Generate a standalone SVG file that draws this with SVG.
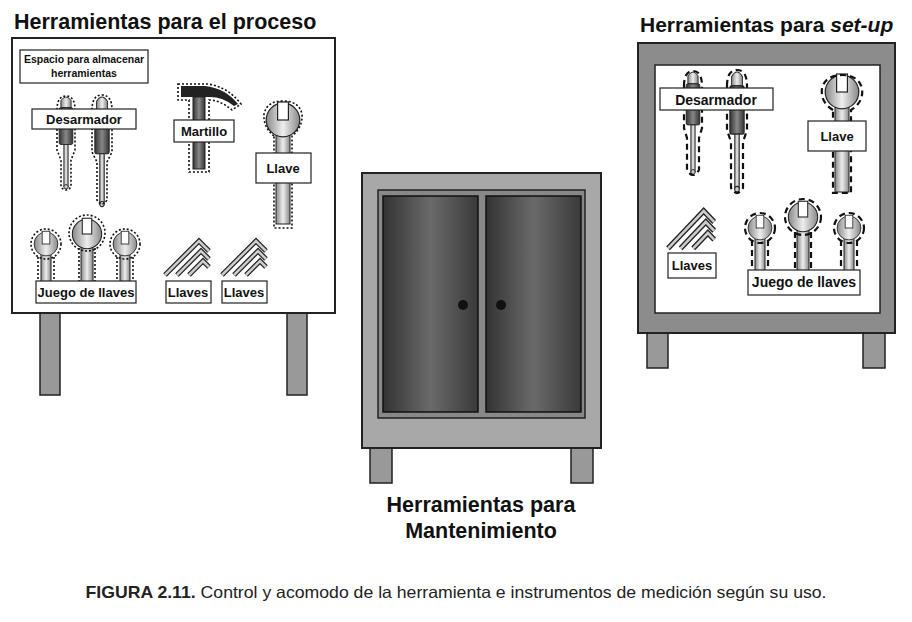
<svg xmlns="http://www.w3.org/2000/svg" width="912" height="622" viewBox="0 0 912 622">
<style>
.t{font-family:"Liberation Sans",Arial,sans-serif;font-weight:bold;fill:#111}
.lb{fill:#fff;stroke:#222;stroke-width:1.2}
.lt{font-family:"Liberation Sans",Arial,sans-serif;font-weight:bold;font-size:13px;fill:#111;text-anchor:middle}
.dot{fill:none;stroke:#111;stroke-width:1.6;stroke-dasharray:2 2}
.dash{fill:none;stroke:#111;stroke-width:2.2;stroke-dasharray:6 4}
.leg{fill:#999;stroke:#222;stroke-width:1.5}
.sh{fill:url(#mg);stroke:#222}
</style>
<defs>
<linearGradient id="mg" x1="0" x2="1"><stop offset="0" stop-color="#888"/><stop offset="0.5" stop-color="#eee"/><stop offset="1" stop-color="#888"/></linearGradient>
<linearGradient id="dg" x1="0" x2="1"><stop offset="0" stop-color="#333"/><stop offset="0.5" stop-color="#888"/><stop offset="1" stop-color="#333"/></linearGradient>
<linearGradient id="door" x1="0" x2="1"><stop offset="0" stop-color="#333"/><stop offset="0.5" stop-color="#6a6a6a"/><stop offset="1" stop-color="#3a3a3a"/></linearGradient>
<g id="wh">
<circle cx="0" cy="0" r="14" fill="url(#mg)" stroke="#222"/>
<rect x="-4.5" y="-15" width="9" height="15" fill="#fff" stroke="#222"/>
</g>
<g id="sd">
<path d="M-6,12 L-6,4 Q0,-4 6,4 L6,12 Z" fill="url(#mg)" stroke="#222"/>
<rect x="-8" y="12" width="16" height="42" rx="2" fill="url(#dg)" stroke="#222"/>
<rect x="-2.5" y="54" width="5" height="48" fill="url(#mg)" stroke="#222"/>
<circle cx="0" cy="102" r="2.5" fill="#ccc" stroke="#222"/>
</g>
<g id="hex">
<path d="M0,44 L34,10 L44,20 M12,44 L36,20 L44,28 M24,44 L38,30 L44,36" fill="none" stroke="#222" stroke-width="5"/>
<path d="M0,44 L34,10 L44,20 M12,44 L36,20 L44,28 M24,44 L38,30 L44,36" fill="none" stroke="#ccc" stroke-width="2.5"/>
</g>
</defs>
<rect width="912" height="622" fill="#fff"/>

<g id="board-proceso">
<text class="t" x="14" y="29" font-size="21.5">Herramientas para el proceso</text>
<rect class="leg" x="40" y="313" width="20" height="82"/>
<rect class="leg" x="287" y="313" width="20" height="82"/>
<rect x="12" y="38" width="323" height="275" fill="#fff" stroke="#222" stroke-width="2"/>
<rect class="lb" x="20" y="50" width="128" height="33"/>
<text class="lt" x="84" y="63" style="font-size:10.5px">Espacio para almacenar</text>
<text class="lt" x="84" y="77" style="font-size:10.5px">herramientas</text>
<g transform="translate(66,97) scale(0.85,0.88)"><use href="#sd"/></g>
<g transform="translate(102,97) scale(0.9,1.05)"><use href="#sd"/></g>
<path class="dot" d="M57,110 Q57,96 66,96 Q75,96 75,110 L75,150 L71,160 L71,187 Q66,193 61,187 L61,160 L57,150 Z"/>
<path class="dot" d="M92,110 Q92,95 102,95 Q112,95 112,110 L112,152 L107,162 L107,200 Q102,208 97,200 L97,162 L92,152 Z"/>
<rect class="lb" x="32" y="109" width="104" height="20"/>
<text class="lt" x="84" y="124">Desarmador</text>
<path d="M181,86 L205,86 Q225,88 238,104 L234,106 Q222,96 207,97 L181,97 Z" fill="#222"/>
<rect x="193" y="97" width="12" height="72" fill="url(#dg)" stroke="#222"/>
<path class="dot" d="M178,84 L208,84 Q228,87 241,104 L232,110 Q220,100 209,100 L209,172 L189,172 L189,100 L178,100 Z"/>
<rect class="lb" x="174" y="120" width="60" height="22"/>
<text class="lt" x="204" y="136">Martillo</text>
<rect class="sh" x="276" y="128" width="14" height="96"/>
<g transform="translate(283,120) scale(1.2)"><use href="#wh"/></g>
<path class="dot" d="M274,136 Q263,127 264,114 Q267,101 283,101 Q299,101 302,114 Q303,127 292,136 L292,228 L274,228 Z"/>
<rect class="lb" x="256" y="153" width="55" height="30"/>
<text class="lt" x="283" y="173">Llave</text>
<rect class="sh" x="41" y="250" width="10" height="35"/>
<rect class="sh" x="81" y="240" width="12" height="45"/>
<rect class="sh" x="120" y="250" width="10" height="35"/>
<g transform="translate(46,244) scale(0.85)"><use href="#wh"/></g>
<g transform="translate(87,234) scale(1.05)"><use href="#wh"/></g>
<g transform="translate(125,244) scale(0.85)"><use href="#wh"/></g>
<circle class="dot" cx="46" cy="244" r="15"/>
<circle class="dot" cx="87" cy="233" r="18"/>
<circle class="dot" cx="125" cy="244" r="15"/>
<path class="dot" d="M38,257 L38,283 M54,257 L54,283 M79,248 L79,283 M95,248 L95,283 M117,257 L117,283 M133,257 L133,283"/>
<rect class="lb" x="36" y="281" width="100" height="22"/>
<text class="lt" x="86" y="297">Juego de llaves</text>
<g transform="translate(165,231)"><use href="#hex"/></g>
<g transform="translate(222,231)"><use href="#hex"/></g>
<rect class="lb" x="166" y="281" width="45" height="22"/>
<text class="lt" x="188" y="297">Llaves</text>
<rect class="lb" x="222" y="281" width="45" height="22"/>
<text class="lt" x="244" y="297">Llaves</text>
</g>

<g id="cabinet">
<rect class="leg" x="370" y="448" width="22" height="35"/>
<rect class="leg" x="571" y="448" width="22" height="35"/>
<rect x="362" y="173" width="239" height="275" fill="#a8a8a8" stroke="#222" stroke-width="2"/>
<rect x="378" y="190" width="207" height="228" fill="#888" stroke="#222" stroke-width="1.5"/>
<rect x="383" y="196" width="95" height="216" fill="url(#door)" stroke="#111" stroke-width="1.5"/>
<rect x="486" y="196" width="95" height="216" fill="url(#door)" stroke="#111" stroke-width="1.5"/>
<circle cx="463" cy="305" r="5" fill="#111"/>
<circle cx="501" cy="305" r="5" fill="#111"/>
<text class="t" x="481" y="512" font-size="21.5" text-anchor="middle">Herramientas para</text>
<text class="t" x="481" y="538" font-size="21.5" text-anchor="middle">Mantenimiento</text>
</g>

<g id="board-setup">
<text class="t" x="640" y="32" font-size="21">Herramientas para <tspan font-style="italic">set-up</tspan></text>
<rect class="leg" x="647" y="333" width="21" height="35"/>
<rect class="leg" x="863" y="333" width="22" height="35"/>
<rect x="638" y="43" width="257" height="290" fill="#8c8c8c" stroke="#222" stroke-width="2"/>
<rect x="655" y="65" width="225" height="248" fill="#fff" stroke="#222" stroke-width="1.5"/>
<g transform="translate(693,72) scale(0.85,0.98)"><use href="#sd"/></g>
<g transform="translate(737,72) scale(0.9,1.15)"><use href="#sd"/></g>
<path class="dash" d="M684,86 Q684,71 693,71 Q702,71 702,86 L702,128 L699,138 L699,170 Q693,180 687,170 L687,138 L684,128 Z"/>
<path class="dash" d="M727,86 Q727,70 737,70 Q747,70 747,86 L747,130 L743,142 L743,188 Q737,198 731,188 L731,142 L727,130 Z"/>
<rect class="lb" x="660" y="88" width="113" height="22"/>
<text class="lt" x="716" y="104.5" style="font-size:14px">Desarmador</text>
<rect class="sh" x="835" y="100" width="14" height="92"/>
<g transform="translate(842,92) scale(1.2)"><use href="#wh"/></g>
<path class="dash" d="M833,110 Q820,102 822,88 Q826,75 842,75 Q858,75 862,88 Q864,102 851,110 L851,193 L833,193 Z"/>
<rect class="lb" x="808" y="121" width="58" height="30"/>
<text class="lt" x="837" y="141">Llave</text>
<g transform="translate(668,200) scale(1.05,1.1)"><use href="#hex"/></g>
<rect class="lb" x="668" y="253" width="48" height="25"/>
<text class="lt" x="692" y="270">Llaves</text>
<rect class="sh" x="755" y="235" width="10" height="36"/>
<rect class="sh" x="797" y="225" width="12" height="46"/>
<rect class="sh" x="844" y="235" width="10" height="36"/>
<g transform="translate(760,228) scale(0.85)"><use href="#wh"/></g>
<g transform="translate(803,217) scale(1.05)"><use href="#wh"/></g>
<g transform="translate(849,228) scale(0.85)"><use href="#wh"/></g>
<circle class="dash" cx="760" cy="228" r="15"/>
<circle class="dash" cx="803" cy="217" r="18"/>
<circle class="dash" cx="849" cy="228" r="15"/>
<path class="dash" d="M752,240 L752,270 M768,240 L768,270 M795,232 L795,270 M811,232 L811,270 M841,240 L841,270 M857,240 L857,270"/>
<rect class="lb" x="748" y="270" width="112" height="25"/>
<text class="lt" x="804" y="287" style="font-size:14px">Juego de llaves</text>
</g>

<text x="456" y="598" font-family="Liberation Sans,Arial,sans-serif" font-size="16.5" fill="#222" text-anchor="middle" textLength="741" lengthAdjust="spacingAndGlyphs"><tspan font-weight="bold">FIGURA 2.11.</tspan> Control y acomodo de la herramienta e instrumentos de medición según su uso.</text>
</svg>
